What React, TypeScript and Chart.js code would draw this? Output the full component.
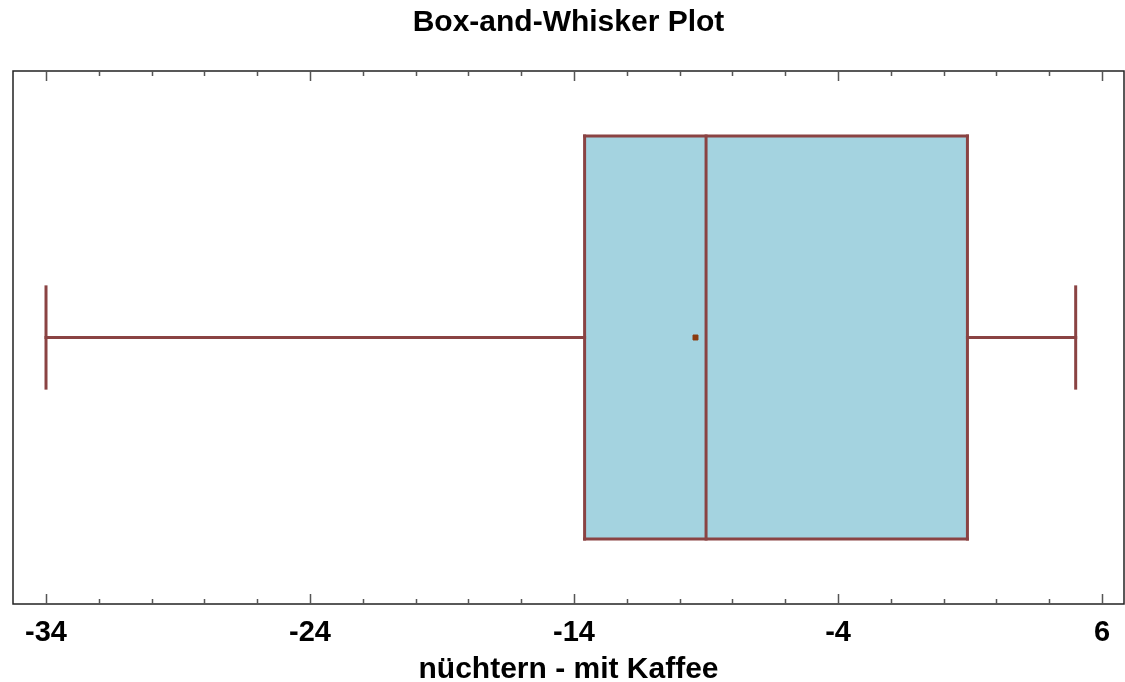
import React, { useEffect, useRef } from "react";
import { Chart, registerables } from "chart.js";

Chart.register(...registerables);

// ---- data ----
const statNames = ["Minimum", "Q1", "Median", "Q3", "Maximum"];
const statValues = [-34, -13.6, -9.0, 0.9, 5.0];
const meanValue = [-9.4];
const tickValues = [-34, -32, -30, -28, -26, -24, -22, -20, -18, -16, -14, -12, -10, -8, -6, -4, -2, 0, 2, 4, 6];
const majorTickLabels = [-34, -24, -14, -4, 6];
const chartTitle = "Box-and-Whisker Plot";
const axisTitle = "nüchtern - mit Kaffee";
const xRange = [-35.25, 6.83];

// ---- styles ----
const BOX_LOW = 0.122;
const BOX_HIGH = 0.878;
const CAP_LOW = 0.405;
const CAP_HIGH = 0.595;
const MID = 0.5;
const LINE_COLOR = "#8A4343";
const FILL_COLOR = "#A4D3E0";
const MEAN_COLOR = "#8B3A0E";
const FONT = "'Liberation Sans', Arial, sans-serif";
const X_AXIS_HEIGHT = 78;

const frameTicks = {
  id: "frameTicks",
  afterDraw(chart: any) {
    const { ctx, chartArea } = chart;
    const xs = chart.scales.x;
    ctx.save();
    ctx.strokeStyle = "#222222";
    ctx.lineWidth = 1.5;
    ctx.strokeRect(chartArea.left, chartArea.top, chartArea.right - chartArea.left, chartArea.bottom - chartArea.top);
    ctx.strokeStyle = "#555555";
    ctx.lineWidth = 1.5;
    xs.ticks.forEach((t: any) => {
      const px = Math.round(xs.getPixelForValue(t.value)) + 0.5;
      const len = majorTickLabels.includes(t.value) ? 10 : 5;
      ctx.beginPath();
      ctx.moveTo(px, chartArea.bottom);
      ctx.lineTo(px, chartArea.bottom - len);
      ctx.moveTo(px, chartArea.top);
      ctx.lineTo(px, chartArea.top + len);
      ctx.stroke();
    });
    ctx.restore();
  },
};

export default function App() {
  const ref = useRef<HTMLCanvasElement | null>(null);

  useEffect(() => {
    if (!ref.current) return;
    const [mn, q1, med, q3, mx] = statValues;
    const lineDs = (label: string, pts: { x: number; y: number }[], extra: any = {}) => ({
      label,
      data: pts,
      showLine: true,
      borderColor: LINE_COLOR,
      borderWidth: 3,
      pointRadius: 0,
      pointHoverRadius: 0,
      borderCapStyle: "square",
      tension: 0,
      fill: false,
      order: 1,
      ...extra,
    });
    const datasets: any[] = [
      {
        label: "Mean",
        data: meanValue.map((v) => ({ x: v, y: MID })),
        showLine: false,
        pointStyle: "rect",
        pointRadius: 3.5,
        pointHoverRadius: 0,
        pointBorderWidth: 1,
        pointBackgroundColor: MEAN_COLOR,
        pointBorderColor: MEAN_COLOR,
        order: 0,
      },
      lineDs(statNames[1], [{ x: q1, y: BOX_LOW }, { x: q1, y: BOX_HIGH }]),
      lineDs(statNames[2], [{ x: med, y: BOX_LOW }, { x: med, y: BOX_HIGH }]),
      lineDs(statNames[3], [{ x: q3, y: BOX_LOW }, { x: q3, y: BOX_HIGH }]),
      lineDs("whisker-low", [{ x: mn, y: MID }, { x: q1, y: MID }]),
      lineDs("whisker-high", [{ x: q3, y: MID }, { x: mx, y: MID }]),
      lineDs(statNames[0], [{ x: mn, y: CAP_LOW }, { x: mn, y: CAP_HIGH }]),
      lineDs(statNames[4], [{ x: mx, y: CAP_LOW }, { x: mx, y: CAP_HIGH }]),
      lineDs("box-bottom", [{ x: q1, y: BOX_LOW }, { x: q3, y: BOX_LOW }], { order: 1 }),
      lineDs("box-top", [{ x: q1, y: BOX_HIGH }, { x: q3, y: BOX_HIGH }], {
        fill: "-1",
        backgroundColor: FILL_COLOR,
        order: 5,
      }),
    ];

    const chart = new Chart(ref.current, {
      type: "scatter",
      data: { datasets },
      options: {
        animation: false,
        responsive: false,
        layout: { autoPadding: false, padding: { left: 13, right: 1, top: 0, bottom: 0 } },
        plugins: {
          legend: { display: false },
          tooltip: { enabled: false },
          title: {
            display: true,
            text: chartTitle,
            color: "#000",
            font: { family: FONT, size: 30, weight: "bold", lineHeight: 1 },
            padding: { top: 8, bottom: 33 },
          },
        },
        scales: {
          x: {
            type: "linear",
            min: xRange[0],
            max: xRange[1],
            afterBuildTicks: (s: any) => {
              s.ticks = tickValues.map((v) => ({ value: v }));
            },
            afterFit: (s: any) => {
              s.paddingLeft = 0;
              s.paddingRight = 0;
              s.height = X_AXIS_HEIGHT;
            },
            grid: { display: false, drawTicks: false },
            border: { display: false },
            ticks: {
              autoSkip: false,
              maxRotation: 0,
              padding: 14,
              color: "#000",
              font: { family: FONT, size: 29, weight: "bold", lineHeight: 1 },
              callback: (v: any) => (majorTickLabels.includes(v) ? String(v) : ""),
            },
            title: {
              display: true,
              text: axisTitle,
              color: "#000",
              font: { family: FONT, size: 30, weight: "bold", lineHeight: 1 },
              padding: { top: 5, bottom: -3 },
            },
          },
          y: { type: "linear", min: 0, max: 1, display: false },
        },
      } as any,
      plugins: [frameTicks],
    });
    return () => chart.destroy();
  }, []);

  return (
    <div style={{ position: "absolute", left: 0, top: 0, width: 1125, height: 682, background: "#fff" }}>
      <canvas ref={ref} width={1125} height={682} />
    </div>
  );
}
